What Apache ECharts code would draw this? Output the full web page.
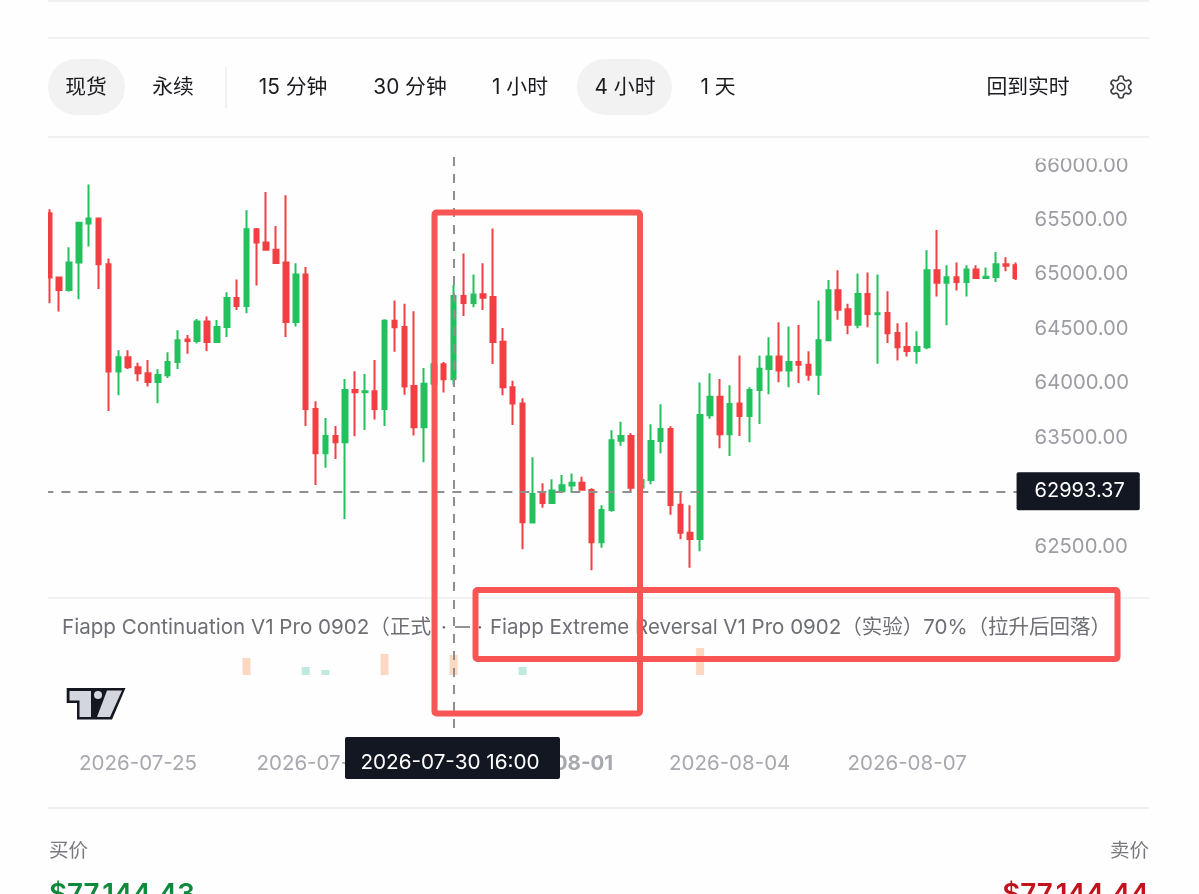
<!DOCTYPE html>
<html><head><meta charset="utf-8">
<style>html,body{margin:0;padding:0;background:#fefefe}#c{width:1199px;height:894px}</style>
<script src="https://cdn.jsdelivr.net/npm/echarts@6/dist/echarts.min.js"></script>
</head><body><div id="c"></div>
<script>
const candleOpen=[65547,64956,64843,65094,65452,65498,65079,64093,64224,64133,
64077,63998,64059,64182,64387,64374,64552,64365,64503,64769,
64696,65400,65278,65213,65094,64549,64984,63750,63343,63502,
63444,63924,63903,63912,63750,64561,64503,63961,63581,63982,
64160,64022,64788,64724,64803,64779,64368,63949,63799,62706,
62969,62886,62993,63046,63073,63006,62525,62822,63459,63502,
63027,63098,63456,63566,62871,62614,62556,63692,63863,63517,
63799,63685,63924,64117,64231,64102,64182,64157,64065,64381,
64840,64665,64524,64806,64619,64632,64448,64319,64283,64316,
65024,64910,64959,64916,65030,64953,64962,65079,65070];
const candleClose=[64956,64843,65094,65461,65498,65079,64093,64224,64133,64077,
63998,64062,64182,64381,64374,64552,64365,64503,64769,64696,
65400,65278,65213,65091,64549,64984,63750,63343,63502,63444,
63924,63903,63912,63750,64561,64500,63955,63581,63982,64160,
64022,64788,64724,64800,64772,64365,63949,63799,62709,62969,
62886,63000,63049,63073,63009,62525,62822,63462,63502,63027,
63098,63456,63566,62868,62614,62556,63695,63863,63517,63796,
63685,63924,64120,64231,64102,64182,64157,64065,64381,64840,
64662,64524,64806,64622,64629,64445,64316,64283,64319,65024,
64910,64959,64916,65030,64953,64965,65079,65066,64953];
const candleLow=[64720,64644,64828,64757,65241,64852,63731,63875,64117,64004,
63955,63802,64035,64117,64258,64350,64283,64356,64411,64659,
64629,64883,65213,65085,64411,64506,63594,63052,63211,63291,
62739,63499,63557,63652,63594,64276,63881,63505,63260,63955,
63900,63973,64604,64684,64659,64163,63875,63603,62461,62700,
62843,62883,62990,62981,63000,62268,62476,62807,63413,62981,
63006,63058,63343,62779,62553,62292,62442,63661,63388,63318,
63502,63444,63612,63885,63995,63949,63989,64010,63878,64378,
64570,64436,64491,64500,64166,64356,64194,64231,64166,64298,
64782,64518,64837,64782,64947,64947,64916,65014,64935];
const candleHigh=[65584,64956,65235,65468,65811,65504,65131,64289,64289,64175,
64200,64114,64270,64472,64430,64577,64598,64567,64822,64938,
65575,65412,65743,65431,65713,65088,65054,63820,63667,63594,
64025,64096,64071,64200,64573,64745,64717,64647,64126,64200,
64182,64889,65177,64984,65088,65406,64494,64010,63848,63306,
63067,63104,63143,63156,63128,63021,62865,63554,63633,63526,
63113,63609,63793,63591,62993,62865,63992,64077,64025,63967,
64240,63949,64240,64408,64546,64506,64521,64280,64745,64935,
65024,64717,64993,65002,64984,64831,64537,64546,64463,65207,
65394,65070,65094,65070,65070,65048,65192,65143,65094];
const lastPrice=62993.37;
const signalIndex=[20,26,28,34,41,48,66];
const signalValue=[17,8,5,21,20,8,27];
const signalKind=['o','t','t','o','o','t','o'];
const tickIndex=[9,27,45,51,69,87];
const tickText=['2026-07-25','2026-07-28','2026-07-31','2026-08-01','2026-08-04','2026-08-07'];
const crossIndex=41;
const crossLabel='2026-07-30 16:00';
const tabs=[['现货',86],['永续',173],['15 分钟',293],['30 分钟',410],['1 小时',520],['4 小时',625],['1 天',718],['回到实时',1028]];

const FONT='Inter,"Noto Sans CJK SC",sans-serif';
const cats=candleOpen.map((_,i)=>{const k=tickIndex.indexOf(i);return k>=0?tickText[k]:'c'+i;});
const candles=candleOpen.map((o,i)=>[o,candleClose[i],candleLow[i],candleHigh[i]]);
const sig=candleOpen.map(()=>null);
signalIndex.forEach((ix,k)=>{sig[ix]={value:signalValue[k],itemStyle:{color:signalKind[k]==='o'?'#fcd8c3':'#bfe8df'}};});

function txt(t,x,y,size,color,align,extra){return {type:'text',z:120,x:x,y:y,style:Object.assign({text:t,fontSize:size,fill:color,fontFamily:FONT,align:align||'center',verticalAlign:'middle'},extra||{})};}
function hl(y){return {type:'line',z:110,shape:{x1:48,y1:y,x2:1149,y2:y},style:{stroke:'#ececec',lineWidth:1.5}};}
const gearPath='M12.22 2h-.44a2 2 0 0 0-2 2v.18a2 2 0 0 1-1 1.73l-.43.25a2 2 0 0 1-2 0l-.15-.08a2 2 0 0 0-2.73.73l-.22.38a2 2 0 0 0 .73 2.73l.15.1a2 2 0 0 1 1 1.72v.51a2 2 0 0 1-1 1.74l-.15.09a2 2 0 0 0-.73 2.73l.22.38a2 2 0 0 0 2.73.73l.15-.08a2 2 0 0 1 2 0l.43.25a2 2 0 0 1 1 1.73V20a2 2 0 0 0 2 2h.44a2 2 0 0 0 2-2v-.18a2 2 0 0 1 1-1.73l.43-.25a2 2 0 0 1 2 0l.15.08a2 2 0 0 0 2.73-.73l.22-.39a2 2 0 0 0-.73-2.73l-.15-.08a2 2 0 0 1-1-1.74v-.5a2 2 0 0 1 1-1.74l.15-.09a2 2 0 0 0 .73-2.73l-.22-.38a2 2 0 0 0-2.73-.73l-.15.08a2 2 0 0 1-2 0l-.43-.25a2 2 0 0 1-1-1.73V4a2 2 0 0 0-2-2z';
echarts.graphic.registerShape('gear',echarts.graphic.extendPath(gearPath,{}));
const LOGO_DARK='#14171f',LOGO_LIGHT='#d4d6dd';
const graphics=[
 {type:'rect',z:100,shape:{x:30,y:150,width:18,height:450},style:{fill:'#fefefe'}},
 {type:'rect',z:100,shape:{x:1017,y:150,width:6,height:320},style:{fill:'#fefefe'}},
 {type:'rect',z:100,shape:{x:1025,y:140,width:120,height:18.5},style:{fill:'#fefefe'}},
 hl(1),hl(38),hl(137),hl(598),hl(808),
 {type:'rect',z:110,shape:{x:48,y:59,width:77,height:56,r:28},style:{fill:'#f2f2f2'}},
 {type:'rect',z:110,shape:{x:577,y:59,width:95,height:56,r:28},style:{fill:'#f2f2f2'}},
 {type:'line',z:110,shape:{x1:226,y1:67,x2:226,y2:108},style:{stroke:'#ececec',lineWidth:1.5}},
 {type:'gear',z:120,x:1107.8,y:73.8,scaleX:1.1,scaleY:1.1,style:{fill:'none',stroke:'#3b3d42',lineWidth:1.5}},
 {type:'circle',z:120,shape:{cx:1121,cy:87,r:3.8},style:{fill:'none',stroke:'#3b3d42',lineWidth:1.6}},
 txt('Fiapp Continuation V1 Pro 0902（正式',62,627.5,20.6,'#6d6f75','left'),
 txt('·',444,627.5,20,'#6d6f75','center'),
 {type:'line',z:120,shape:{x1:455,y1:627,x2:470,y2:627},style:{stroke:'#6d6f75',lineWidth:1.5}},
 txt('·',480,627.5,20,'#6d6f75','center'),
 txt('Fiapp Extreme Reversal V1 Pro 0902（实验）70%（拉升后回落）',490,627.5,20.5,'#6d6f75','left'),
 {type:'polygon',z:120,shape:{points:[[66.7,688],[125.5,688],[112,719.5],[77,719.5],[77,703],[66.7,703]]},style:{fill:LOGO_DARK}},
 {type:'polygon',z:121,shape:{points:[[69.5,691],[91,691],[91,717],[79.5,717],[79.5,700.5],[69.5,700.5]]},style:{fill:LOGO_LIGHT}},
 {type:'polygon',z:121,shape:{points:[[107,690.5],[122,690.5],[110,717],[97,717]]},style:{fill:LOGO_LIGHT}},
 {type:'circle',z:121,shape:{cx:98,cy:695,r:4},style:{fill:LOGO_LIGHT}},
 {type:'rect',z:115,shape:{x:345,y:737,width:215,height:42,r:2},style:{fill:'#131722'}},
 txt(crossLabel,450,763,20.7,'#ffffff'),
 txt('买价',49,851,19.5,'#77797f','left'),
 txt('卖价',1149,851,19.5,'#77797f','right'),
 txt('$77,144.43',49,895,27.7,'#0f8a3c','left',{fontWeight:600}),
 txt('$77,144.44',1149,895,27.7,'#c4121c','right',{fontWeight:600}),
 {type:'rect',z:130,shape:{x:434.5,y:212.5,width:205.5,height:501,r:2},style:{fill:'none',stroke:'#f95555',lineWidth:6}},
 {type:'rect',z:130,shape:{x:475.5,y:590,width:642,height:69,r:2},style:{fill:'none',stroke:'#f95555',lineWidth:6}}
];
tabs.forEach(t=>graphics.push(txt(t[0],t[1],88,20.8,'#1b1c20')));

const gridL=44.37,gridW=976.2;
const crossLine={color:'#8f8f8f',type:[9,8],width:2};
const chart=echarts.init(document.getElementById('c'),null,{renderer:'canvas'});
chart.setOption({
 animation:false,backgroundColor:'#fefefe',
 grid:[{left:gridL,width:gridW,top:109.5,height:490},{left:gridL,width:gridW,top:600,height:135}],
 xAxis:[
  {type:'category',gridIndex:0,data:cats,boundaryGap:true,axisLine:{show:false},axisTick:{show:false},axisLabel:{show:false},splitLine:{show:false}},
  {type:'category',gridIndex:1,data:cats,boundaryGap:true,axisLine:{show:false},axisTick:{show:false},splitLine:{show:false},
   axisLabel:{margin:19,fontSize:20.5,color:'#a7a9af',fontFamily:FONT,hideOverlap:false,
    interval:(i)=>tickIndex.indexOf(i)>=0,
    formatter:(v)=>v==='2026-08-01'?'{b|'+v+'}':v,
    rich:{b:{fontSize:20.5,fontWeight:'bold',color:'#a7a9af',fontFamily:FONT}}}}
 ],
 yAxis:[
  {type:'value',gridIndex:0,position:'right',min:62000,max:66500,interval:500,splitLine:{show:false},axisLine:{show:false},axisTick:{show:false},
   axisLabel:{margin:14,color:'#9b9da3',fontFamily:FONT,fontSize:20.3,
    formatter:(v)=>(v===62000||v===66500)?'':'{a|'+v.toFixed(2)+'}',
    rich:{a:{fontSize:20.3,color:'#9b9da3',fontFamily:FONT,padding:[3,0,0,0]}}}},
  {type:'value',gridIndex:1,min:-60,max:75,show:false}
 ],
 series:[
  {type:'bar',xAxisIndex:1,yAxisIndex:1,data:sig,barWidth:8,z:1,
   markLine:{silent:true,symbol:'none',animation:false,label:{show:false},lineStyle:crossLine,
    data:[[{coord:[crossIndex,75]},{coord:[crossIndex,-60]}]]}},
  {type:'candlestick',xAxisIndex:0,yAxisIndex:0,data:candles,barWidth:5,z:2,clip:true,
   itemStyle:{color:'#22c15e',color0:'#f23f42',borderColor:'#22c15e',borderColor0:'#f23f42',borderWidth:2},
   markLine:{silent:true,symbol:'none',animation:false,label:{show:false},
    lineStyle:crossLine,
    data:[
     [{coord:[crossIndex,66064]},{coord:[crossIndex,62011]}],
     {yAxis:lastPrice,label:{show:true,position:'end',distance:-4,formatter:lastPrice.toFixed(2),color:'#fff',fontSize:20,fontFamily:FONT,backgroundColor:'#131722',padding:[9,15,9,18],borderRadius:2}}
    ]}}
 ],
 graphic:{elements:graphics}
});
</script></body></html>
